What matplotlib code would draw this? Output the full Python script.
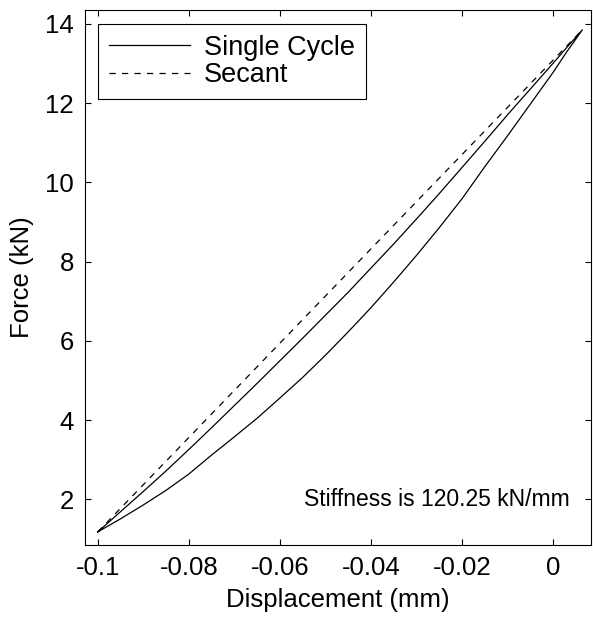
import numpy as np
import matplotlib
matplotlib.use("Agg")
import matplotlib.pyplot as plt

plt.rcParams['font.family'] = ['Liberation Sans', 'DejaVu Sans']
plt.rcParams['axes.unicode_minus'] = False

# loading branch (lower curve)
disp_load = [-0.1, -0.095, -0.09, -0.085, -0.08, -0.075, -0.07, -0.065, -0.06,
             -0.055, -0.05, -0.045, -0.04, -0.035, -0.03, -0.025, -0.02, -0.015,
             -0.01, -0.005, 0.0, 0.003, 0.0064]
force_load = [1.18, 1.51, 1.86, 2.23, 2.64, 3.12, 3.58, 4.05, 4.56, 5.08, 5.64,
              6.23, 6.84, 7.49, 8.16, 8.86, 9.59, 10.40, 11.18, 11.98, 12.78,
              13.30, 13.85]

# unloading branch (upper curve)
disp_unload = [0.0064, 0.003, 0.0, -0.005, -0.01, -0.015, -0.02, -0.025, -0.03,
               -0.035, -0.04, -0.045, -0.05, -0.055, -0.06, -0.065, -0.07, -0.075,
               -0.08, -0.085, -0.09, -0.095, -0.1]
force_unload = [13.85, 13.41, 13.01, 12.36, 11.71, 11.04, 10.38, 9.72, 9.08,
                8.45, 7.84, 7.23, 6.65, 6.07, 5.50, 4.93, 4.37, 3.81, 3.26, 2.72,
                2.20, 1.69, 1.18]

# secant end points
secant_disp = [-0.1, 0.0064]
secant_force = [1.18, 13.85]

stiffness = 120.25

xticks = [-0.1, -0.08, -0.06, -0.04, -0.02, 0]
xtick_labels = ['-0.1', '-0.08', '-0.06', '-0.04', '-0.02', '0']
yticks = [2, 4, 6, 8, 10, 12, 14]

fig = plt.figure(figsize=(5.93, 6.22), dpi=100)
ax = fig.add_axes([0.1433, 0.1238, 0.8533, 0.860])

cycle_x = disp_load + disp_unload[1:]
cycle_y = force_load + force_unload[1:]
ax.plot(cycle_x, cycle_y, color='black', lw=0.9, label='Single Cycle')
ax.plot(secant_disp, secant_force, color='black', lw=0.9,
        linestyle=(0, (5, 5)), label='Secant')

ax.set_xlim(-0.1028, 0.0083)
ax.set_ylim(0.85, 14.35)
ax.set_xticks(xticks)
ax.set_xticklabels(xtick_labels)
ax.set_yticks(yticks)

ax.tick_params(direction='in', length=4.5, width=0.8, labelsize=18.5,
               top=True, right=True, pad=8)
for s in ax.spines.values():
    s.set_linewidth(0.8)

ax.set_xlabel('Displacement (mm)', fontsize=18.5, labelpad=6)
ax.set_ylabel('Force (kN)', fontsize=18.5, labelpad=8)

ax.text(-0.0548, 2.0, 'Stiffness is %.2f kN/mm' % stiffness,
        fontsize=16.5, va='center', ha='left')

leg = ax.legend(loc='upper left', bbox_to_anchor=(0.026, 0.974),
                borderaxespad=0, fontsize=19.5, handlelength=3.0,
                fancybox=False, framealpha=1, edgecolor='black',
                borderpad=0.4, labelspacing=0.05, handletextpad=0.5)
leg.get_frame().set_linewidth(0.8)

fig.savefig('out.png', dpi=100)
